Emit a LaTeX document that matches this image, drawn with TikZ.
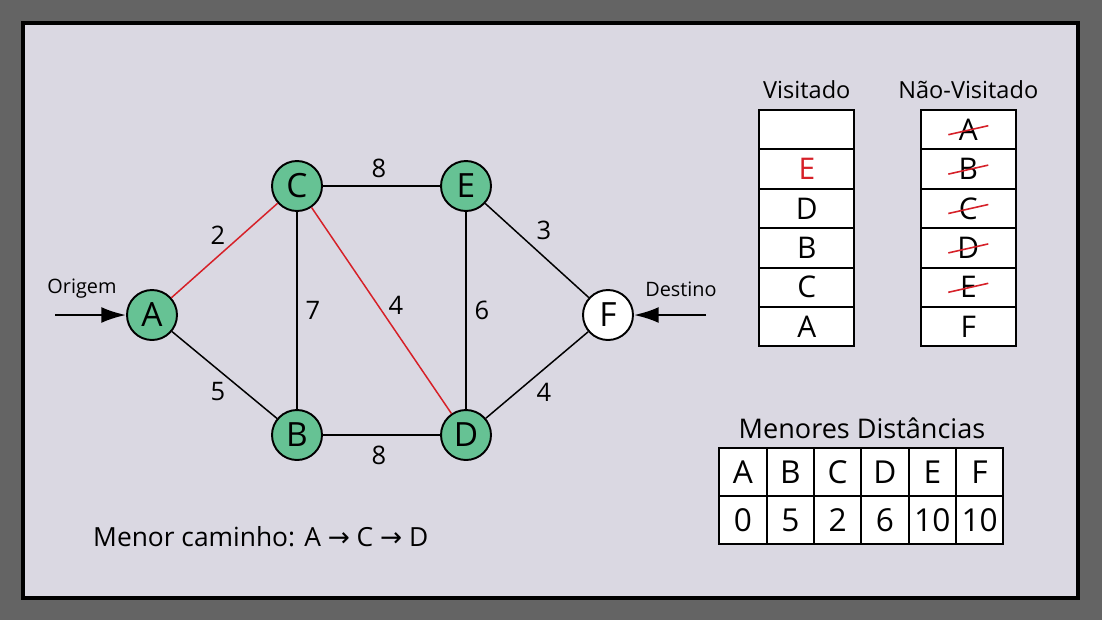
\documentclass[tikz,border=0pt]{standalone}
\usepackage{fontspec}
\setmainfont{Open Sans}
\newfontfamily\setafont{DejaVu Sans}
\usetikzlibrary{arrows.meta}

\definecolor{moldura}{RGB}{100,100,100}
\definecolor{fundo}{RGB}{218,216,226}
\definecolor{verde}{RGB}{102,194,148}
\definecolor{vermelho}{RGB}{214,32,40}

\begin{document}
\begin{tikzpicture}[x=0.02cm,y=-0.02cm,
	vertice/.style={circle,draw,line width=1.1pt,fill=verde,minimum size=1cm,inner sep=0pt,font=\fontsize{19}{19}\selectfont},
	aresta/.style={line width=0.85pt},
	peso/.style={font=\fontsize{14.5}{14.5}\selectfont},
	seta/.style={line width=1.3pt,-{Latex[length=14pt,width=9pt]}},
	rotulo/.style={font=\fontsize{11.3}{11.3}\selectfont},
	titulo/.style={font=\fontsize{13.4}{13.4}\selectfont},
	celula/.style={draw,line width=1.1pt,fill=white,minimum width=1.9cm,minimum height=0.79cm,inner sep=0pt,font=\fontsize{17}{17}\selectfont},
	dist/.style={draw,line width=1.1pt,fill=white,minimum width=0.946cm,minimum height=0.955cm,inner sep=0pt,font=\fontsize{18}{18}\selectfont}]
%
	\fill[moldura] (0,0) rectangle (1102,620);
	\draw[line width=2.3pt,fill=fundo] (23,23) rectangle (1078,598);
%
	% grafo
	\node[vertice] (A) at (152,315) {A};
	\node[vertice] (C) at (297,186) {C};
	\node[vertice] (E) at (466,186) {E};
	\node[vertice] (B) at (297,435) {B};
	\node[vertice] (D) at (466,435) {D};
	\node[vertice,fill=white] (F) at (608,315) {F};
	\draw[aresta,vermelho] (A) -- (C);
	\draw[aresta] (A) -- (B);
	\draw[aresta] (C) -- (E);
	\draw[aresta] (C) -- (B);
	\draw[aresta,vermelho] (C) -- (D);
	\draw[aresta] (E) -- (D);
	\draw[aresta] (E) -- (F);
	\draw[aresta] (D) -- (F);
	\draw[aresta] (B) -- (D);
	\node[peso] at (218,235) {2};
	\node[peso] at (218,392) {5};
	\node[peso] at (379,168) {8};
	\node[peso] at (313,310) {7};
	\node[peso] at (396,305) {4};
	\node[peso] at (482,310) {6};
	\node[peso] at (544,230) {3};
	\node[peso] at (544,392) {4};
	\node[peso] at (379,455) {8};
%
	\coordinate (origem) at (55,315);
	\coordinate (destino) at (706,315);
	\draw[seta] (origem) -- (A);
	\draw[seta] (destino) -- (F);
	\node[rotulo] (lo) at (82,289) {Origem};
	\node[rotulo] (ld) at (681,289) {Destino};
%
	% visitados
	\node[titulo] (tv) at (806.8,90) {Visitado};
	\node[titulo] (tn) at (968.3,90) {Não-Visitado};
	\foreach \t [count=\i] in {{},{\color{vermelho}E},D,B,C,A}
		\node[celula] (v\i) at (806.8,{110+39.4*(\i-0.5)}) {\t};
	\foreach \t [count=\i] in {A,B,C,D,E,F}
		\node[celula] (n\i) at (968.3,{110+39.4*(\i-0.5)}) {\t};
	\foreach \i in {1,...,5}
		\draw[vermelho,line width=0.9pt] ([shift={(-20,5)}]n\i.center) -- ([shift={(20,-4)}]n\i.center);
%
	% distancias
	\node[font=\fontsize{15.4}{15.4}\selectfont] (td) at (862,428) {Menores Distâncias};
	\foreach \t/\d [count=\i] in {A/0,B/5,C/2,D/6,E/10,F/10} {
		\node[dist] (d\t) at ({719.3+47.33*(\i-0.5)},472.2) {\t};
		\node[dist] (d\t v) at ({719.3+47.33*(\i-0.5)},520) {\d};
	}
%
	\node[anchor=west,font=\fontsize{15}{15}\selectfont] (mc) at (87,537) {Menor caminho: A {\setafont→} C {\setafont→} D};
%
\end{tikzpicture}
\end{document}
